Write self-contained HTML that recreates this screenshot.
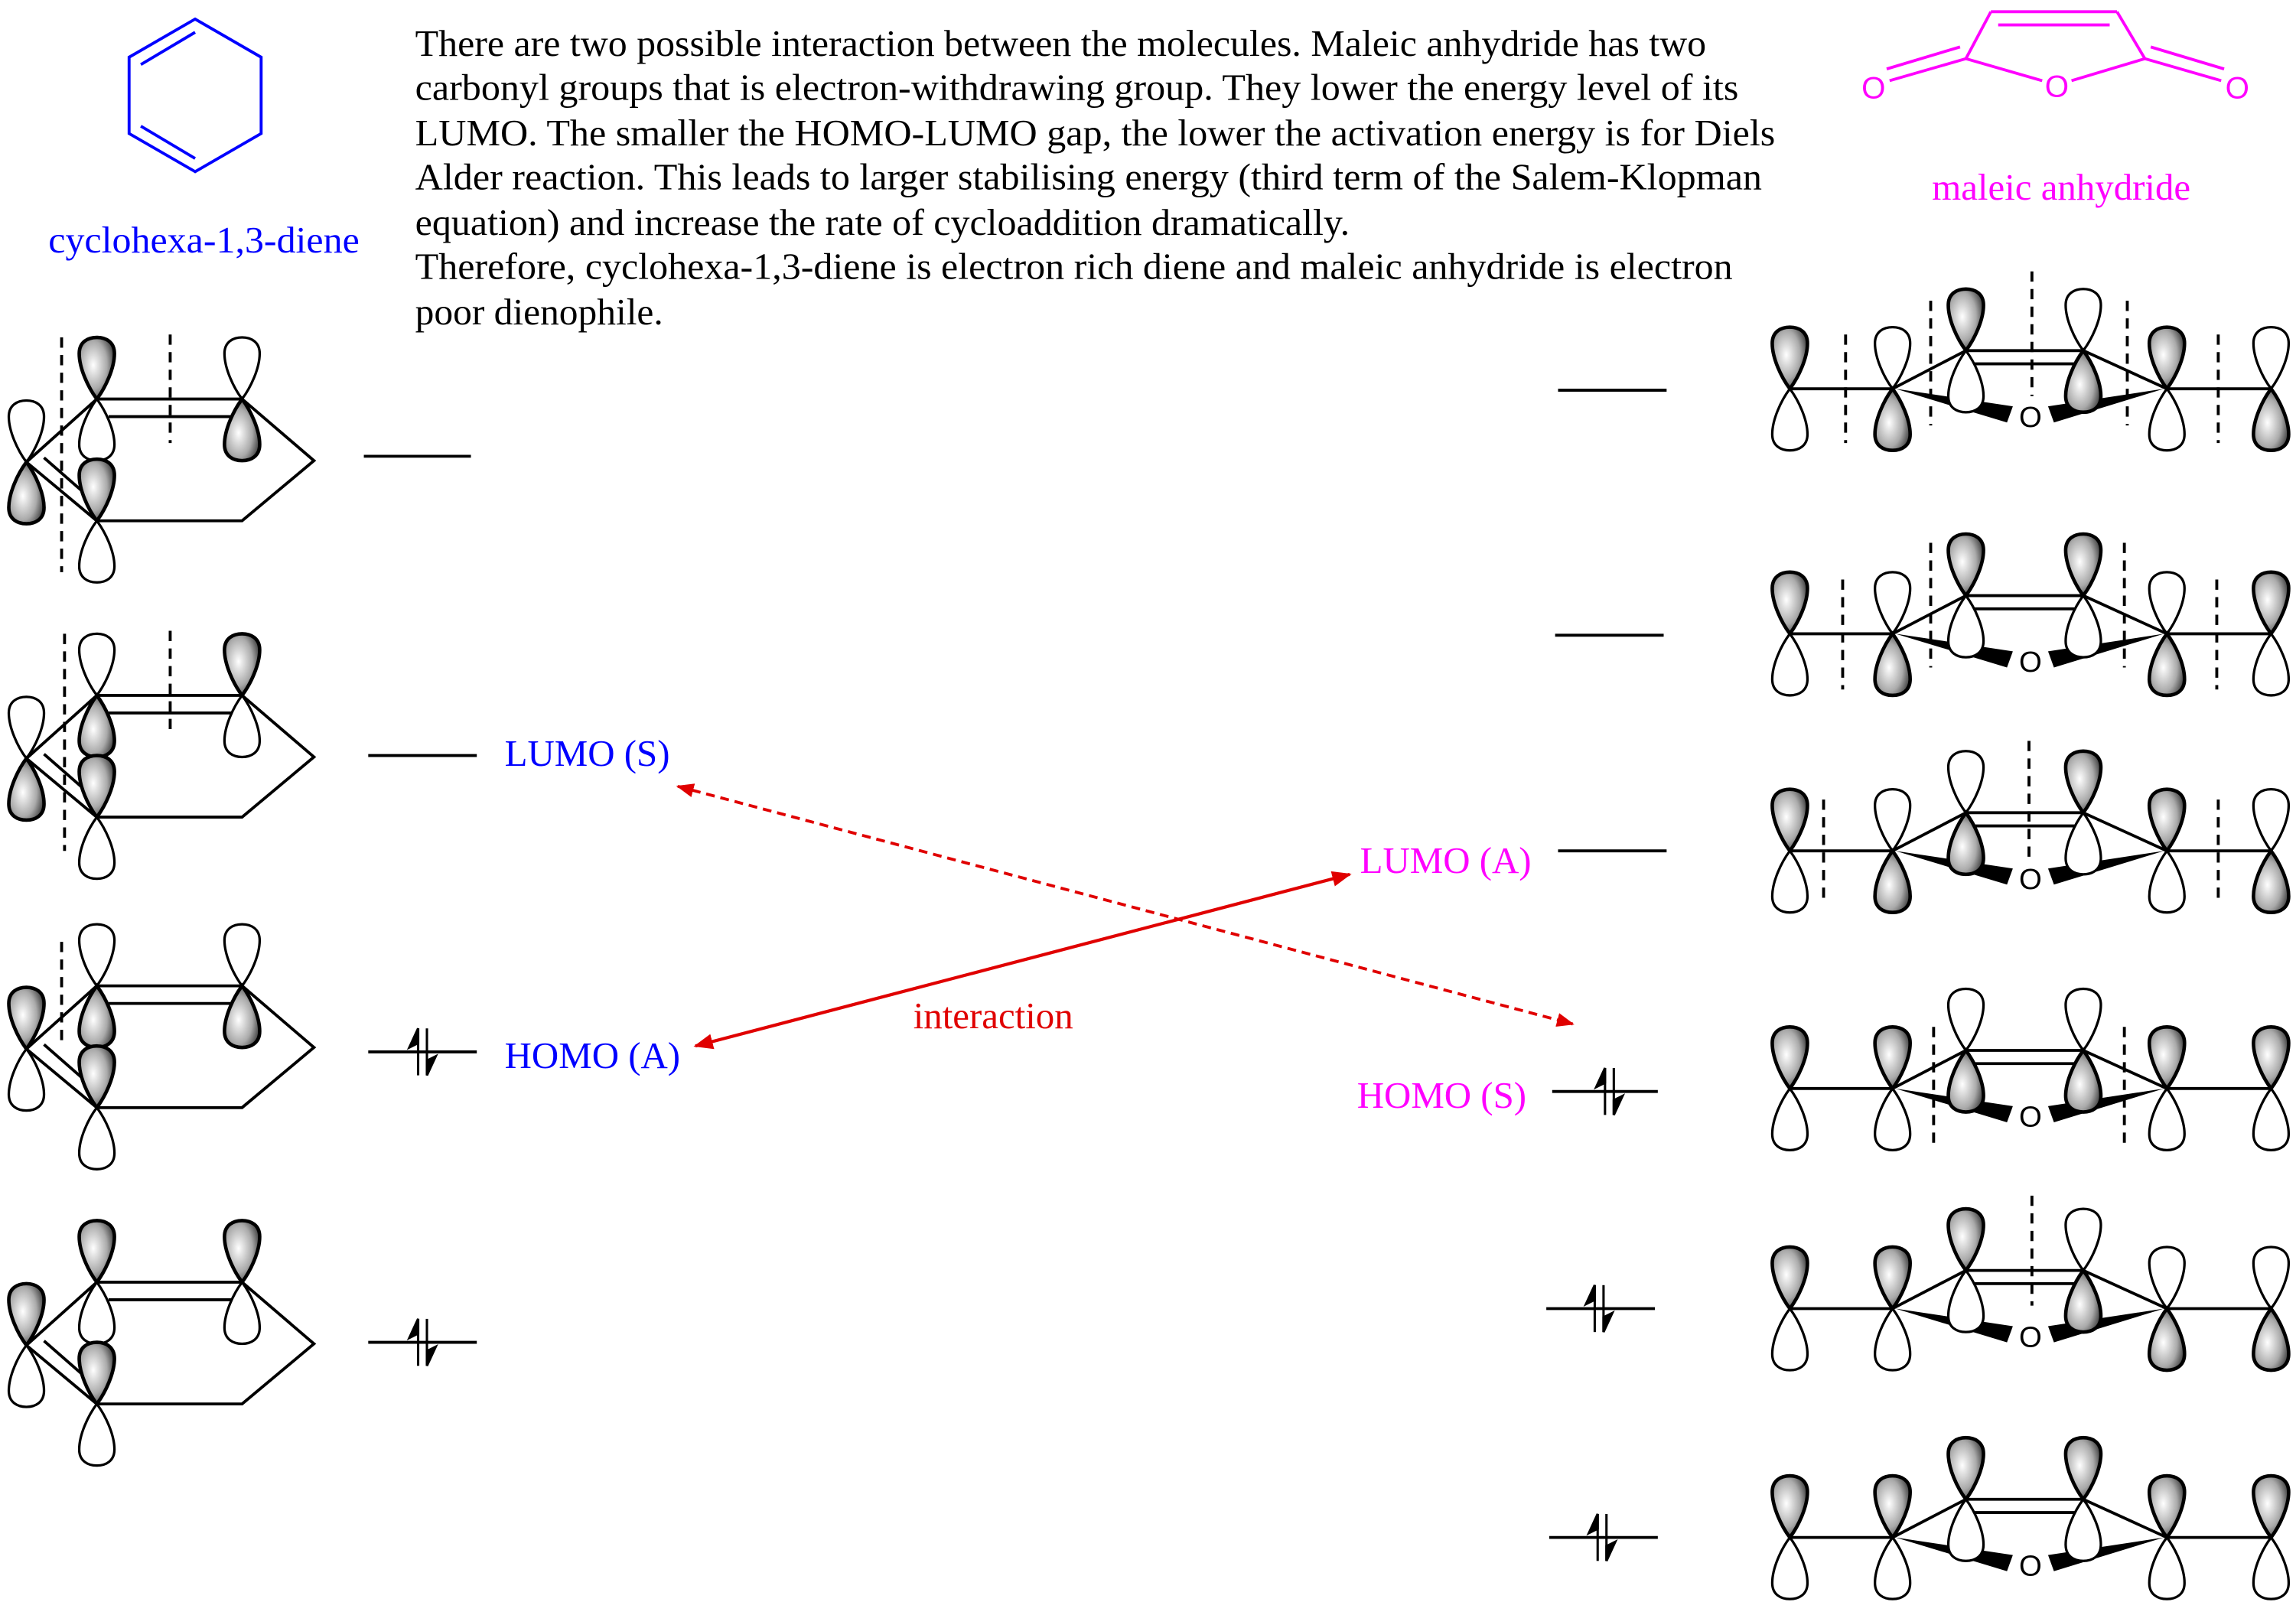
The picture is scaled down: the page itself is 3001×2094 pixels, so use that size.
<!DOCTYPE html>
<html><head><meta charset="utf-8"><style>html,body{margin:0;padding:0;background:#fff}svg{display:block}</style></head>
<body>
<svg width="3001" height="2094" viewBox="0 0 1565 1092" preserveAspectRatio="none" xmlns="http://www.w3.org/2000/svg" font-family="Liberation Serif, serif">
<defs>
<radialGradient id="gr" cx="40%" cy="45%" r="65%"><stop offset="0" stop-color="#fff"/><stop offset="0.6" stop-color="#aaa"/><stop offset="1" stop-color="#333"/></radialGradient>
<path id="lobe" d="M0,0 C-6,-8 -12,-21 -12,-31 C-12,-39 -6,-42 0,-42 C6,-42 12,-39 12,-31 C12,-21 6,-8 0,0Z"/>
<g id="U"><use href="#lobe" fill="url(#gr)" stroke="#000" stroke-width="2.4"/><use href="#lobe" transform="scale(1,-1)" fill="#fff" stroke="#000" stroke-width="1.7"/></g>
<g id="D"><use href="#lobe" fill="#fff" stroke="#000" stroke-width="1.7"/><use href="#lobe" transform="scale(1,-1)" fill="url(#gr)" stroke="#000" stroke-width="2.4"/></g>
<g id="E" stroke="#000" stroke-width="1.6"><line x1="-3" y1="16" x2="-3" y2="-16"/><polygon points="-3,-16 -9,-3 -3,-6" fill="#000"/><line x1="3" y1="-16" x2="3" y2="16"/><polygon points="3,16 9,3 3,6" fill="#000"/></g>
<g id="dien" stroke="#000" stroke-width="2" fill="none">
<line x1="18" y1="315" x2="66" y2="272"/><line x1="18" y1="315" x2="66" y2="355"/><line x1="30" y1="312" x2="62" y2="340"/>
<line x1="66" y1="272" x2="165" y2="272"/><line x1="74" y1="284" x2="160" y2="284"/>
<polyline points="165,272 214,314 165,355 66,355"/>
</g>
<g id="man" stroke="#000" stroke-width="2" fill="none">
<line x1="1220" y1="0" x2="1290" y2="0"/><line x1="1477" y1="0" x2="1548" y2="0"/>
<line x1="1290" y1="0" x2="1340" y2="-26"/><line x1="1420" y1="-26" x2="1477" y2="0"/>
<line x1="1340" y1="-26" x2="1420" y2="-26"/><line x1="1346" y1="-17" x2="1414" y2="-17"/>
<polygon points="1292,0 1372,12 1368,23" fill="#000" stroke="none"/>
<polygon points="1475,0 1396,12 1400,23" fill="#000" stroke="none"/>
<text x="1384" y="26" font-size="20" text-anchor="middle" fill="#000" stroke="none" font-family="Liberation Sans, sans-serif">O</text>
</g>
<marker id="ar" viewBox="0 0 10 10" refX="9" refY="5" markerWidth="6" markerHeight="6" orient="auto-start-reverse"><path d="M0,1 L10,5 L0,9 Z" fill="#e00000"/></marker>
</defs>

<g font-size="25.5" fill="#000">
<text x="283" y="38" textLength="880" lengthAdjust="spacingAndGlyphs">There are two possible interaction between the molecules. Maleic anhydride has two</text>
<text x="283" y="68" textLength="902" lengthAdjust="spacingAndGlyphs">carbonyl groups that is electron-withdrawing group. They lower the energy level of its</text>
<text x="283" y="99" textLength="927" lengthAdjust="spacingAndGlyphs">LUMO. The smaller the HOMO-LUMO gap, the lower the activation energy is for Diels</text>
<text x="283" y="129" textLength="918" lengthAdjust="spacingAndGlyphs">Alder reaction. This leads to larger stabilising energy (third term of the Salem-Klopman</text>
<text x="283" y="160" textLength="637" lengthAdjust="spacingAndGlyphs">equation) and increase the rate of cycloaddition dramatically.</text>
<text x="283" y="190" textLength="898" lengthAdjust="spacingAndGlyphs">Therefore, cyclohexa-1,3-diene is electron rich diene and maleic anhydride is electron</text>
<text x="283" y="221" textLength="169" lengthAdjust="spacingAndGlyphs">poor dienophile.</text>
</g>

<g stroke="#0000ff" stroke-width="2" fill="none">
<polygon points="133,13 178,39 178,91 133,117 88,91 88,39"/>
<line x1="96" y1="44" x2="133" y2="22"/><line x1="96" y1="86" x2="133" y2="108"/>
</g>
<text x="139" y="172" font-size="25.5" fill="#0000ff" text-anchor="middle" textLength="212" lengthAdjust="spacingAndGlyphs">cyclohexa-1,3-diene</text>

<g stroke="#ff00ff" stroke-width="2" fill="none">
<line x1="1357" y1="8" x2="1443" y2="8"/><line x1="1362" y1="17" x2="1438" y2="17"/>
<line x1="1357" y1="8" x2="1340" y2="40"/><line x1="1443" y1="8" x2="1462" y2="40"/>
<line x1="1340" y1="40" x2="1392" y2="55"/><line x1="1462" y1="40" x2="1412" y2="55"/>
<line x1="1340" y1="40" x2="1288" y2="55"/><line x1="1336" y1="32" x2="1286" y2="47"/>
<line x1="1462" y1="40" x2="1514" y2="55"/><line x1="1466" y1="32" x2="1516" y2="47"/>
</g>
<g fill="#ff00ff" font-size="21" font-family="Liberation Sans, sans-serif" text-anchor="middle">
<text x="1402" y="66">O</text><text x="1277" y="67">O</text><text x="1525" y="67">O</text>
</g>
<text x="1405" y="136" font-size="25.5" fill="#ff00ff" text-anchor="middle">maleic anhydride</text>

<g stroke="#000" stroke-width="2" stroke-dasharray="7,5">
<line x1="42" y1="230" x2="42" y2="390"/><line x1="116" y1="228" x2="116" y2="302"/>
<line x1="44" y1="432" x2="44" y2="580"/><line x1="116" y1="430" x2="116" y2="500"/>
<line x1="42" y1="642" x2="42" y2="712"/>
</g>
<use href="#dien"/>
<use href="#D" x="18" y="315"/><use href="#U" x="66" y="272"/><use href="#D" x="165" y="272"/><use href="#U" x="66" y="355"/>
<use href="#dien" y="202"/>
<use href="#D" x="18" y="517"/><use href="#D" x="66" y="474"/><use href="#U" x="165" y="474"/><use href="#U" x="66" y="557"/>
<use href="#dien" y="400"/>
<use href="#U" x="18" y="715"/><use href="#D" x="66" y="672"/><use href="#D" x="165" y="672"/><use href="#U" x="66" y="755"/>
<use href="#dien" y="602"/>
<use href="#U" x="18" y="917"/><use href="#U" x="66" y="874"/><use href="#U" x="165" y="874"/><use href="#U" x="66" y="957"/>

<g stroke="#000" stroke-width="2">
<line x1="248" y1="311" x2="321" y2="311"/>
<line x1="251" y1="515" x2="325" y2="515"/>
<line x1="251" y1="717" x2="325" y2="717"/>
<line x1="251" y1="915" x2="325" y2="915"/>
<line x1="1062" y1="266" x2="1136" y2="266"/>
<line x1="1060" y1="433" x2="1134" y2="433"/>
<line x1="1062" y1="580" x2="1136" y2="580"/>
<line x1="1058" y1="744" x2="1130" y2="744"/>
<line x1="1054" y1="892" x2="1128" y2="892"/>
<line x1="1056" y1="1048" x2="1130" y2="1048"/>
</g>
<use href="#E" x="288" y="717"/><use href="#E" x="288" y="915"/>
<use href="#E" x="1097" y="744"/><use href="#E" x="1090" y="892"/><use href="#E" x="1092" y="1048"/>

<g stroke="#000" stroke-width="2" stroke-dasharray="7,5">
<line x1="1258" y1="228" x2="1258" y2="302"/><line x1="1316" y1="205" x2="1316" y2="290"/><line x1="1385" y1="185" x2="1385" y2="270"/><line x1="1450" y1="205" x2="1450" y2="290"/><line x1="1512" y1="228" x2="1512" y2="302"/>
<line x1="1256" y1="395" x2="1256" y2="470"/><line x1="1316" y1="370" x2="1316" y2="455"/><line x1="1448" y1="370" x2="1448" y2="455"/><line x1="1511" y1="395" x2="1511" y2="470"/>
<line x1="1243" y1="545" x2="1243" y2="615"/><line x1="1383" y1="505" x2="1383" y2="585"/><line x1="1512" y1="545" x2="1512" y2="615"/>
<line x1="1318" y1="700" x2="1318" y2="780"/><line x1="1448" y1="700" x2="1448" y2="780"/>
<line x1="1385" y1="815" x2="1385" y2="890"/>
</g>
<use href="#man" y="265"/>
<use href="#U" x="1220" y="265"/><use href="#D" x="1290" y="265"/><use href="#U" x="1340" y="239"/><use href="#D" x="1420" y="239"/><use href="#U" x="1477" y="265"/><use href="#D" x="1548" y="265"/>
<use href="#man" y="432"/>
<use href="#U" x="1220" y="432"/><use href="#D" x="1290" y="432"/><use href="#U" x="1340" y="406"/><use href="#U" x="1420" y="406"/><use href="#D" x="1477" y="432"/><use href="#U" x="1548" y="432"/>
<use href="#man" y="580"/>
<use href="#U" x="1220" y="580"/><use href="#D" x="1290" y="580"/><use href="#D" x="1340" y="554"/><use href="#U" x="1420" y="554"/><use href="#U" x="1477" y="580"/><use href="#D" x="1548" y="580"/>
<use href="#man" y="742"/>
<use href="#U" x="1220" y="742"/><use href="#U" x="1290" y="742"/><use href="#D" x="1340" y="716"/><use href="#D" x="1420" y="716"/><use href="#U" x="1477" y="742"/><use href="#U" x="1548" y="742"/>
<use href="#man" y="892"/>
<use href="#U" x="1220" y="892"/><use href="#U" x="1290" y="892"/><use href="#U" x="1340" y="866"/><use href="#D" x="1420" y="866"/><use href="#D" x="1477" y="892"/><use href="#D" x="1548" y="892"/>
<use href="#man" y="1048"/>
<use href="#U" x="1220" y="1048"/><use href="#U" x="1290" y="1048"/><use href="#U" x="1340" y="1022"/><use href="#U" x="1420" y="1022"/><use href="#U" x="1477" y="1048"/><use href="#U" x="1548" y="1048"/>

<g font-size="25.5">
<text x="344" y="522" fill="#0000ff">LUMO (S)</text>
<text x="344" y="728" fill="#0000ff">HOMO (A)</text>
<text x="927" y="595" fill="#ff00ff">LUMO (A)</text>
<text x="925" y="755" fill="#ff00ff">HOMO (S)</text>
<text x="677" y="701" fill="#e00000" text-anchor="middle">interaction</text>
</g>
<line x1="462" y1="536" x2="1072" y2="698" stroke="#e00000" stroke-width="2" stroke-dasharray="6,4" marker-start="url(#ar)" marker-end="url(#ar)"/>
<line x1="474" y1="713" x2="920" y2="596" stroke="#e00000" stroke-width="2.2" marker-start="url(#ar)" marker-end="url(#ar)"/>
</svg>
</body></html>
